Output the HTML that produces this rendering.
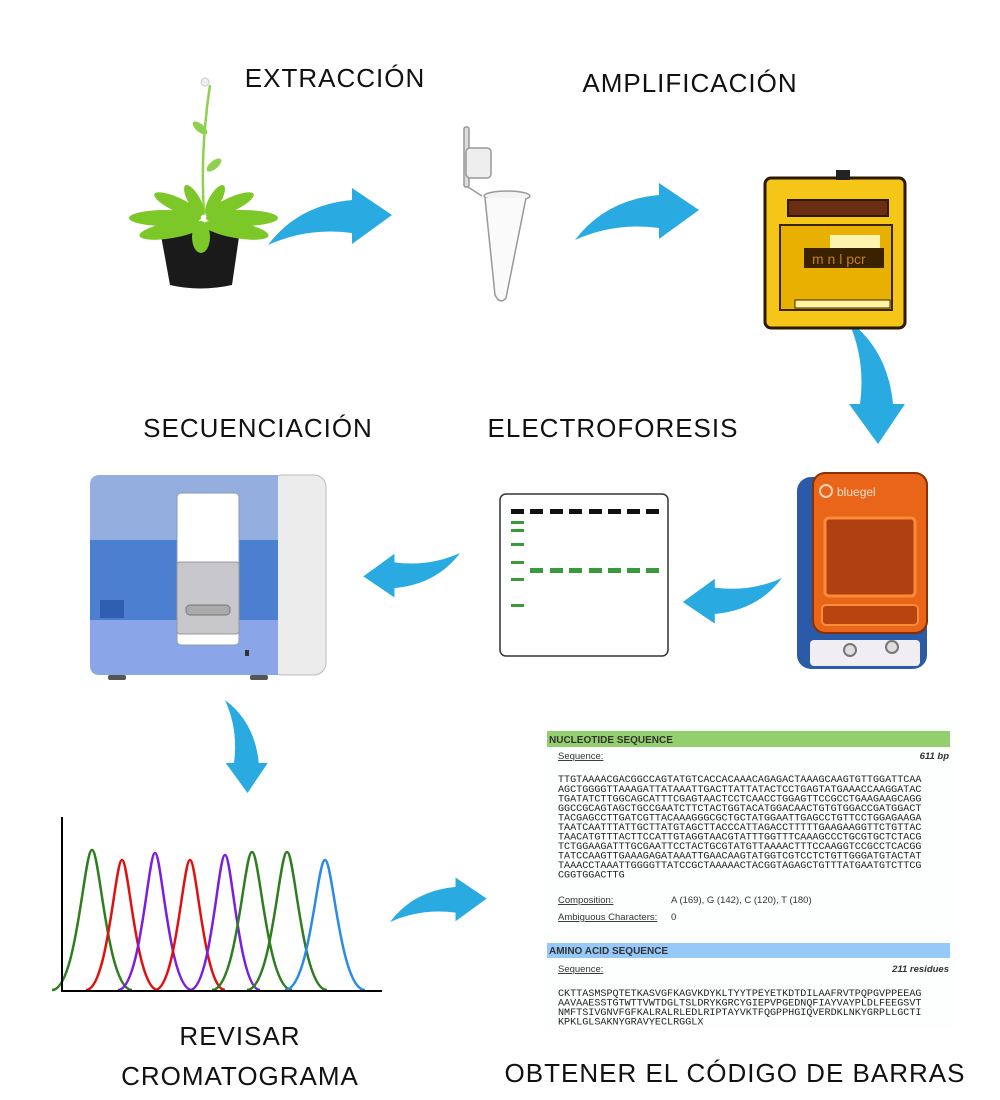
<!DOCTYPE html>
<html><head><meta charset="utf-8"><style>
html,body{margin:0;padding:0;background:#fff}
svg{display:block}
.t{font-family:"Liberation Sans",sans-serif;font-size:26px;fill:#111;letter-spacing:1px}
.m{font-family:"Liberation Mono",monospace;font-size:10.1px;fill:#222}
.s{font-family:"Liberation Sans",sans-serif;font-size:9.5px;fill:#333}
</style></head><body>
<svg width="1000" height="1100" viewBox="0 0 1000 1100" xmlns="http://www.w3.org/2000/svg">
<defs>
<path id="ar" d="M0,0 Q30,-40 84,-45 L84,-57 L124,-30 L84,-1 L84,-12 Q40,-18 0,0 Z" fill="#29abe2"/>
</defs>
<text class="t" x="335" y="87" text-anchor="middle">EXTRACCIÓN</text>
<text class="t" x="690" y="92" text-anchor="middle">AMPLIFICACIÓN</text>
<text class="t" x="258" y="437" text-anchor="middle">SECUENCIACIÓN</text>
<text class="t" x="613" y="437" text-anchor="middle">ELECTROFORESIS</text>
<text class="t" x="240" y="1045" text-anchor="middle">REVISAR</text>
<text class="t" x="240" y="1085" text-anchor="middle">CROMATOGRAMA</text>
<text class="t" x="735" y="1082" text-anchor="middle">OBTENER EL CÓDIGO DE BARRAS</text>

<use href="#ar" transform="translate(268,245)"/>
<use href="#ar" transform="translate(575,240)"/>
<use href="#ar" transform="translate(848,320) rotate(90)"/>
<use href="#ar" transform="translate(782,578) rotate(180) scale(0.8)"/>
<use href="#ar" transform="translate(460,553) rotate(180) scale(0.78)"/>
<use href="#ar" transform="translate(225,700) rotate(90) scale(0.75)"/>
<use href="#ar" transform="translate(390,922) scale(0.78)"/>

<!-- plant -->
<path d="M204,215 Q200,150 210,85" stroke="#8fd14f" stroke-width="2.5" fill="none"/>
<ellipse cx="200" cy="128" rx="9" ry="4" fill="#8fd14f" transform="rotate(40 200 128)"/>
<ellipse cx="214" cy="165" rx="9" ry="4" fill="#8fd14f" transform="rotate(-40 214 165)"/>
<circle cx="205" cy="82" r="4" fill="#eee" stroke="#ccc"/>
<path d="M160,230 L240,230 L232,285 Q200,292 170,285 Z" fill="#1a1a1a"/>
<g fill="#7cc828">
<ellipse cx="165" cy="218" rx="36" ry="8"/>
<ellipse cx="242" cy="218" rx="36" ry="8"/>
<ellipse cx="172" cy="230" rx="33" ry="8" transform="rotate(-10 172 230)"/>
<ellipse cx="236" cy="230" rx="33" ry="8" transform="rotate(10 236 230)"/>
<ellipse cx="178" cy="205" rx="26" ry="7" transform="rotate(25 178 205)"/>
<ellipse cx="230" cy="205" rx="26" ry="7" transform="rotate(-25 230 205)"/>
<ellipse cx="194" cy="200" rx="17" ry="6" transform="rotate(60 194 200)"/>
<ellipse cx="215" cy="200" rx="17" ry="6" transform="rotate(-60 215 200)"/>
<ellipse cx="201" cy="237" rx="9" ry="16"/>
</g>

<!-- tube -->
<g fill="none" stroke="#999" stroke-width="1.5">
<rect x="464" y="127" width="5" height="60" rx="2" fill="#ddd"/>
<rect x="466" y="148" width="25" height="30" rx="4" fill="#eee"/>
<path d="M468,187 L482,196"/>
<ellipse cx="507" cy="196" rx="23" ry="5" fill="#f3f3f3"/>
<path d="M485,198 L495,295 Q500,305 506,298 L526,198" fill="#fafafa"/>
</g>

<!-- thermocycler -->
<rect x="765" y="178" width="140" height="150" rx="6" fill="#f5c518" stroke="#2b1a00" stroke-width="3"/>
<rect x="836" y="170" width="14" height="10" fill="#222"/>
<rect x="788" y="200" width="100" height="16" fill="#6b2d10" stroke="#2b1a00" stroke-width="2"/>
<rect x="780" y="225" width="112" height="85" fill="#e8b000" stroke="#3a2500" stroke-width="2"/>
<rect x="830" y="235" width="50" height="14" fill="#fff3b0"/>
<rect x="804" y="248" width="80" height="20" fill="#3a2200"/>
<text x="812" y="264" font-family="Liberation Sans" font-size="14" fill="#c08020">m n l pcr</text>
<rect x="795" y="300" width="95" height="8" fill="#fff3a0" stroke="#3a2500"/>

<!-- bluegel -->
<rect x="797" y="477" width="130" height="192" rx="14" fill="#2a5aa8"/>
<rect x="810" y="640" width="110" height="26" rx="4" fill="#f0eef2"/>
<circle cx="850" cy="650" r="6" fill="#ddd" stroke="#777" stroke-width="2"/>
<circle cx="892" cy="647" r="6" fill="#ddd" stroke="#777" stroke-width="2"/>
<rect x="813" y="473" width="114" height="160" rx="12" fill="#e8651a" stroke="#8a3000" stroke-width="2"/>
<rect x="825" y="518" width="90" height="78" rx="4" fill="#b04010" stroke="#ff8a3a" stroke-width="3"/>
<rect x="822" y="605" width="96" height="20" rx="4" fill="#b84510" stroke="#ff8a3a" stroke-width="2"/>
<circle cx="826" cy="491" r="6" fill="none" stroke="#ffd0b0" stroke-width="2"/>
<text x="837" y="496" font-family="Liberation Sans" font-size="12" fill="#ffe0cc">bluegel</text>

<!-- gel -->
<rect x="500" y="494" width="168" height="162" rx="6" fill="#fff" stroke="#333" stroke-width="1.5"/>
<g fill="#111"><rect x="511" y="509" width="13" height="5"/><rect x="530" y="509" width="13" height="5"/><rect x="550" y="509" width="13" height="5"/><rect x="569" y="509" width="13" height="5"/><rect x="589" y="509" width="13" height="5"/><rect x="608" y="509" width="13" height="5"/><rect x="627" y="509" width="13" height="5"/><rect x="646" y="509" width="13" height="5"/></g>
<g fill="#3a9a3a"><rect x="511" y="521" width="13" height="3"/><rect x="511" y="529" width="13" height="3"/><rect x="511" y="543" width="13" height="3"/><rect x="511" y="561" width="13" height="3"/><rect x="511" y="578" width="13" height="3"/><rect x="511" y="604" width="13" height="3"/>
<rect x="530" y="568" width="13" height="5"/><rect x="550" y="568" width="13" height="5"/><rect x="569" y="568" width="13" height="5"/><rect x="589" y="568" width="13" height="5"/><rect x="608" y="568" width="13" height="5"/><rect x="627" y="568" width="13" height="5"/><rect x="646" y="568" width="13" height="5"/></g>

<!-- sequencer -->
<rect x="270" y="475" width="56" height="200" rx="12" fill="#ececec" stroke="#bbb"/>
<path d="M90,485 Q90,475 100,475 L278,475 L278,675 L100,675 Q90,675 90,665 Z" fill="#94aee0"/>
<rect x="90" y="540" width="188" height="80" fill="#4d7fd0"/>
<rect x="100" y="600" width="24" height="18" fill="#2f5fb0"/>
<path d="M90,620 L278,620 L278,675 L100,675 Q90,675 90,665 Z" fill="#8aa6e8"/>
<rect x="177" y="493" width="62" height="152" rx="4" fill="#fff" stroke="#8899bb"/>
<rect x="177" y="562" width="62" height="72" rx="3" fill="#c8c8cc" stroke="#999"/>
<rect x="186" y="605" width="44" height="10" rx="4" fill="#aaa" stroke="#777"/>
<rect x="108" y="675" width="18" height="5" rx="2" fill="#555"/>
<rect x="250" y="675" width="18" height="5" rx="2" fill="#555"/>
<rect x="245" y="650" width="4" height="6" fill="#333"/>

<!-- chromatogram -->
<g fill="none" stroke-width="2.5">
<path d="M52,990 C77,990 84,850 92,850 C100,850 107,990 132,990" stroke="#2e7d1e"/>
<path d="M86,990 C108,990 115,860 122,860 C129,860 136,990 158,990" stroke="#e01010"/>
<path d="M118,990 C141,990 148,853 155,853 C162,853 169,990 192,990" stroke="#7a1ee0"/>
<path d="M155,990 C176,990 183,860 190,860 C197,860 204,990 225,990" stroke="#e01010"/>
<path d="M190,990 C211,990 218,855 225,855 C232,855 239,990 260,990" stroke="#7a1ee0"/>
<path d="M212,990 C237,990 244,852 252,852 C260,852 267,990 292,990" stroke="#2e7d1e"/>
<path d="M247,990 C272,990 279,852 287,852 C295,852 302,990 327,990" stroke="#2e7d1e"/>
<path d="M285,990 C310,990 317,860 325,860 C333,860 340,990 365,990" stroke="#2a8ae8"/>
</g>
<path d="M62,817 L62,991 L382,991" stroke="#000" stroke-width="2" fill="none"/>

<!-- sequence panel -->
<rect x="545" y="718" width="410" height="312" fill="#fdfefe"/>
<rect x="547" y="731" width="403" height="16" fill="#94cf6e"/>
<text x="549" y="743" font-family="Liberation Sans" font-size="10" font-weight="bold" fill="#333">NUCLEOTIDE SEQUENCE</text>
<text class="s" x="558" y="759" text-decoration="underline">Sequence:</text>
<text class="s" x="949" y="759" text-anchor="end" font-weight="bold" font-style="italic">611 bp</text>
<g class="m">
<text x="558" y="782">TTGTAAAACGACGGCCAGTATGTCACCACAAACAGAGACTAAAGCAAGTGTTGGATTCAA</text>
<text x="558" y="792">AGCTGGGGTTAAAGATTATAAATTGACTTATTATACTCCTGAGTATGAAACCAAGGATAC</text>
<text x="558" y="801.5">TGATATCTTGGCAGCATTTCGAGTAACTCCTCAACCTGGAGTTCCGCCTGAAGAAGCAGG</text>
<text x="558" y="811">GGCCGCAGTAGCTGCCGAATCTTCTACTGGTACATGGACAACTGTGTGGACCGATGGACT</text>
<text x="558" y="820.5">TACGAGCCTTGATCGTTACAAAGGGCGCTGCTATGGAATTGAGCCTGTTCCTGGAGAAGA</text>
<text x="558" y="830">TAATCAATTTATTGCTTATGTAGCTTACCCATTAGACCTTTTTGAAGAAGGTTCTGTTAC</text>
<text x="558" y="839.5">TAACATGTTTACTTCCATTGTAGGTAACGTATTTGGTTTCAAAGCCCTGCGTGCTCTACG</text>
<text x="558" y="849">TCTGGAAGATTTGCGAATTCCTACTGCGTATGTTAAAACTTTCCAAGGTCCGCCTCACGG</text>
<text x="558" y="858.5">TATCCAAGTTGAAAGAGATAAATTGAACAAGTATGGTCGTCCTCTGTTGGGATGTACTAT</text>
<text x="558" y="868">TAAACCTAAATTGGGGTTATCCGCTAAAAACTACGGTAGAGCTGTTTATGAATGTCTTCG</text>
<text x="558" y="877.5">CGGTGGACTTG</text>
</g>
<text class="s" x="558" y="903" text-decoration="underline">Composition:</text>
<text class="s" x="671" y="903">A (169), G (142), C (120), T (180)</text>
<text class="s" x="558" y="920" text-decoration="underline">Ambiguous Characters:</text>
<text class="s" x="671" y="920">0</text>
<rect x="547" y="943" width="403" height="15" fill="#96c8f8"/>
<text x="549" y="954" font-family="Liberation Sans" font-size="10" font-weight="bold" fill="#333">AMINO ACID SEQUENCE</text>
<text class="s" x="558" y="972" text-decoration="underline">Sequence:</text>
<text class="s" x="949" y="972" text-anchor="end" font-weight="bold" font-style="italic">211 residues</text>
<g class="m">
<text x="558" y="996">CKTTASMSPQTETKASVGFKAGVKDYKLTYYTPEYETKDTDILAAFRVTPQPGVPPEEAG</text>
<text x="558" y="1005.5">AAVAAESSTGTWTTVWTDGLTSLDRYKGRCYGIEPVPGEDNQFIAYVAYPLDLFEEGSVT</text>
<text x="558" y="1015">NMFTSIVGNVFGFKALRALRLEDLRIPTAYVKTFQGPPHGIQVERDKLNKYGRPLLGCTI</text>
<text x="558" y="1024.5">KPKLGLSAKNYGRAVYECLRGGLX</text>
</g>
</svg>
</body></html>
